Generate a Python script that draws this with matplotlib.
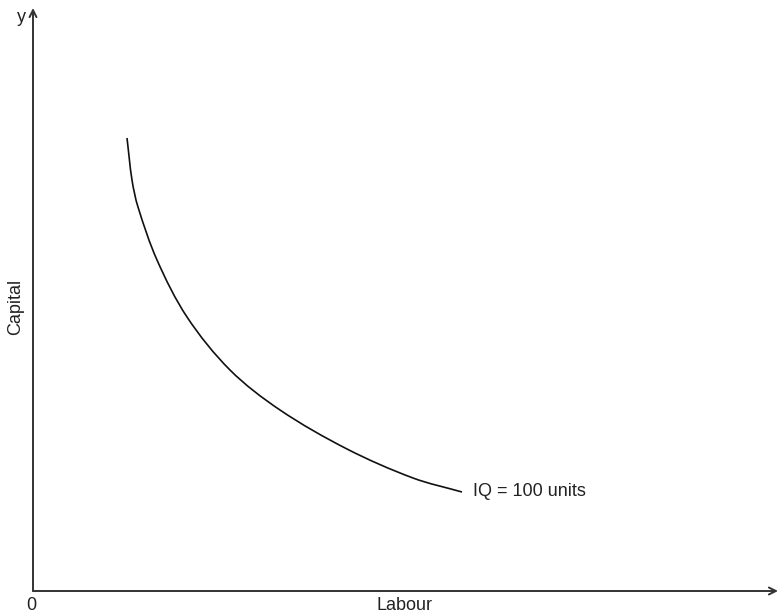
import matplotlib
matplotlib.use("Agg")
import matplotlib.pyplot as plt
from matplotlib.path import Path
from matplotlib.patches import PathPatch

plt.rcParams['font.family'] = ['Liberation Sans', 'DejaVu Sans']

# Isoquant curve values
labour = [94, 99, 105, 124, 154, 197, 247, 314, 380, 429]
capital = [453, 411, 384, 331, 274, 221, 181, 142, 113, 99]
curve_label = "IQ = 100 units"
x_label = "Labour"
y_label = "Capital"

W, H = 784, 616
fig = plt.figure(figsize=(W / 100, H / 100), dpi=100)
ox, oy = 33, 591
ax = fig.add_axes([ox / W, (H - oy) / H, 1 - ox / W, oy / H])
ax.set_xlim(0, W - ox)
ax.set_ylim(0, oy)
ax.axis('off')

axis_col = '#333333'
ax.annotate('', xy=(0, 583), xytext=(0, 0),
            arrowprops=dict(arrowstyle='->,head_length=0.5,head_width=0.25',
                            color=axis_col, lw=1.4, shrinkA=0, shrinkB=0),
            annotation_clip=False)
ax.annotate('', xy=(745, 0), xytext=(0, 0),
            arrowprops=dict(arrowstyle='->,head_length=0.5,head_width=0.25',
                            color=axis_col, lw=1.4, shrinkA=0, shrinkB=0),
            annotation_clip=False)

# Smooth curve through the read points (chord-length Hermite rendered as cubic Bezier)
pts = list(zip(labour, capital))
n = len(pts)
seg = [((pts[i + 1][0] - pts[i][0]) ** 2 + (pts[i + 1][1] - pts[i][1]) ** 2) ** 0.5 for i in range(n - 1)]
tang = []
for i in range(n):
    if i == 0:
        d = seg[0]
        tang.append(((pts[1][0] - pts[0][0]) / d, (pts[1][1] - pts[0][1]) / d))
    elif i == n - 1:
        d = seg[-1]
        tang.append(((pts[-1][0] - pts[-2][0]) / d, (pts[-1][1] - pts[-2][1]) / d))
    else:
        d = seg[i - 1] + seg[i]
        tang.append(((pts[i + 1][0] - pts[i - 1][0]) / d, (pts[i + 1][1] - pts[i - 1][1]) / d))
verts = [pts[0]]
codes = [Path.MOVETO]
for i in range(n - 1):
    h = seg[i] / 3
    c1 = (pts[i][0] + tang[i][0] * h, pts[i][1] + tang[i][1] * h)
    c2 = (pts[i + 1][0] - tang[i + 1][0] * h, pts[i + 1][1] - tang[i + 1][1] * h)
    verts += [c1, c2, pts[i + 1]]
    codes += [Path.CURVE4] * 3
ax.add_patch(PathPatch(Path(verts, codes), facecolor='none', edgecolor='#111111',
                       lw=1.2, capstyle='butt', clip_on=False))

tc = '#222222'
fs = 13
ax.text(440, 100, curve_label, fontsize=fs, color=tc, ha='left', va='center')
ax.text(372, -14, x_label, fontsize=fs, color=tc, ha='center', va='center', clip_on=False)
ax.text(-17, 284, y_label, fontsize=fs, color=tc, ha='center', va='center', rotation=90, clip_on=False)
ax.text(-2, -14, '0', fontsize=fs, color=tc, ha='center', va='center', clip_on=False)
ax.text(-12, 574, 'y', fontsize=fs, color=tc, ha='center', va='center', clip_on=False)

fig.savefig('out.png', dpi=100)
